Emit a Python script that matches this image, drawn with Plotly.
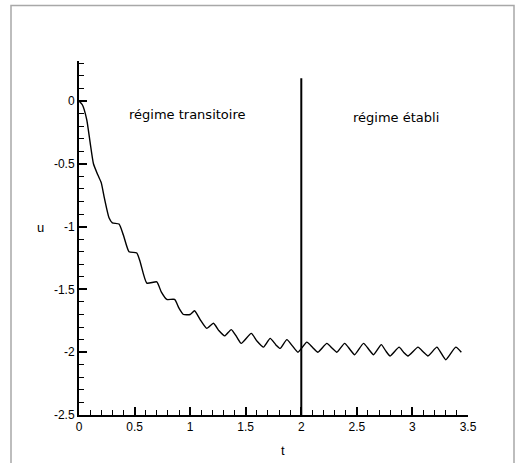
import plotly.graph_objects as go

t_vals = [0.0, 0.03, 0.07, 0.10, 0.13, 0.17, 0.20, 0.23, 0.27, 0.30, 0.36, 0.40, 0.45, 0.52,
          0.55, 0.61, 0.70, 0.74, 0.79, 0.86, 0.90, 0.94, 1.00, 1.04, 1.09, 1.15, 1.21, 1.26,
          1.31, 1.37, 1.42, 1.46, 1.55, 1.60, 1.66, 1.72, 1.77, 1.81, 1.87, 1.92, 1.97, 2.05,
          2.10, 2.15, 2.23, 2.28, 2.32, 2.39, 2.44, 2.48, 2.56, 2.61, 2.65, 2.72, 2.76, 2.80,
          2.88, 2.92, 2.96, 3.05, 3.10, 3.14, 3.22, 3.26, 3.30, 3.39, 3.44]
u_vals = [0.0, -0.03, -0.15, -0.33, -0.50, -0.59, -0.65, -0.78, -0.93, -0.97, -0.98, -1.07, -1.20, -1.21,
          -1.28, -1.45, -1.44, -1.52, -1.58, -1.58, -1.65, -1.70, -1.70, -1.67, -1.74, -1.81, -1.77, -1.83,
          -1.87, -1.82, -1.88, -1.93, -1.85, -1.91, -1.96, -1.89, -1.94, -1.97, -1.90, -1.95, -2.00, -1.92,
          -1.96, -2.00, -1.93, -1.97, -2.00, -1.93, -1.98, -2.02, -1.93, -1.98, -2.02, -1.94, -1.99, -2.03,
          -1.96, -2.00, -2.03, -1.96, -2.00, -2.03, -1.96, -2.01, -2.06, -1.96, -2.00]

x_tick_vals = [0, 0.5, 1, 1.5, 2, 2.5, 3, 3.5]
x_tick_text = ["0", "0.5", "1", "1.5", "2", "2.5", "3", "3.5"]
y_tick_vals = [-2.5, -2, -1.5, -1, -0.5, 0]
y_tick_text = ["-2.5", "-2", "-1.5", "-1", "-0.5", "0"]

x_range = [0, 3.5]
y_range = [-2.5, 0.318]
split_t = 2.0
split_top = 0.18
label_left = "régime transitoire"
label_right = "régime établi"

fig = go.Figure()
fig.add_trace(go.Scatter(x=t_vals, y=u_vals, mode="lines",
                         line=dict(color="black", width=1.4, shape="spline", smoothing=0.5),
                         showlegend=False, hoverinfo="skip"))

fig.add_shape(type="line", x0=split_t, x1=split_t, y0=y_range[0], y1=split_top,
              xref="x", yref="y", line=dict(color="black", width=2))

# outer frame
fig.add_shape(type="rect", xref="paper", yref="paper",
              x0=(11 - 79) / 389, x1=(514 - 79) / 389,
              y0=(415 - 470) / 354, y1=(415 - 5.5) / 354,
              line=dict(color="#a8a8a8", width=1.5), fillcolor="rgba(0,0,0,0)", layer="below")

tick_font = dict(family="Liberation Sans, Arial", size=12, color="black")
ann_font = dict(family="DejaVu Sans", size=13, color="black")
title_font = dict(family="Liberation Sans, Arial", size=13, color="black")

fig.add_annotation(x=0.97, y=-0.11, xref="x", yref="y", text=label_left, showarrow=False, font=ann_font,
                   xanchor="center", yanchor="middle")
fig.add_annotation(x=2.85, y=-0.13, xref="x", yref="y", text=label_right, showarrow=False, font=ann_font,
                   xanchor="center", yanchor="middle")
fig.add_annotation(x=(40 - 79) / 389, y=(415 - 227) / 354, xref="paper", yref="paper", text="u",
                   showarrow=False, font=title_font, xanchor="center", yanchor="middle")
fig.add_annotation(x=(283 - 79) / 389, y=(415 - 450) / 354, xref="paper", yref="paper", text="t",
                   showarrow=False, font=title_font, xanchor="center", yanchor="middle")

axis_common = dict(showline=True, linewidth=2, linecolor="black", showgrid=False, zeroline=False,
                   ticks="inside", ticklen=8, tickwidth=1.5, tickcolor="black", tickfont=tick_font,
                   tickmode="array", mirror=False,
                   minor=dict(ticks="inside", ticklen=5, tickwidth=1, tickcolor="black",
                              tick0=0, dtick=0.1, showgrid=False))

fig.update_xaxes(range=x_range, tickvals=x_tick_vals, ticktext=x_tick_text, **axis_common)
fig.update_yaxes(range=y_range, tickvals=y_tick_vals, ticktext=y_tick_text, **axis_common)

fig.update_layout(width=518, height=463, margin=dict(l=79, r=50, t=61, b=48),
                  plot_bgcolor="white", paper_bgcolor="white")

fig.write_html("out.html", config={"displayModeBar": False},
               post_script="document.body.style.margin='0px';document.body.style.overflow='hidden';")
